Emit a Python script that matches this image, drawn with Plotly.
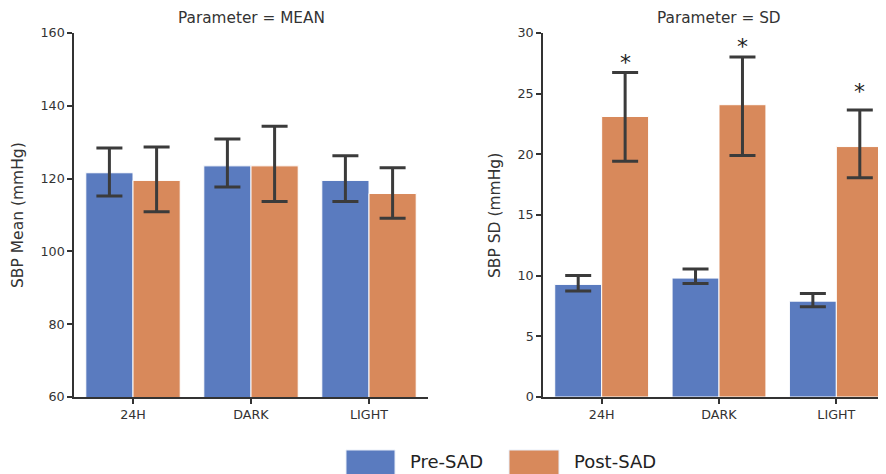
import plotly.graph_objects as go

categories = ["24H", "DARK", "LIGHT"]
groups = ["Pre-SAD", "Post-SAD"]

mean_pre = [121.6, 123.5, 119.5]
mean_pre_hi = [128.4, 130.9, 126.3]
mean_pre_lo = [115.2, 117.7, 113.7]
mean_post = [119.5, 123.5, 115.9]
mean_post_hi = [128.7, 134.4, 123.0]
mean_post_lo = [110.9, 113.7, 109.1]

sd_pre = [9.28, 9.80, 7.90]
sd_pre_hi = [10.02, 10.54, 8.54]
sd_pre_lo = [8.73, 9.36, 7.43]
sd_post = [23.12, 24.09, 20.64]
sd_post_hi = [26.75, 28.02, 23.65]
sd_post_lo = [19.44, 19.90, 18.08]

sig_marks = ["*", "*", "*"]
sig_y = [27.9, 29.2, 25.5]

mean_ticks = [60, 80, 100, 120, 140, 160]
sd_ticks = [0, 5, 10, 15, 20, 25, 30]

BLUE = "#5A7BBF"
ORANGE = "#D8895B"
ERR = "#3B3B3B"
AX = "#333333"
W, H = 887, 474
OFF = 8  # page body margin in the browser


def px(x):
    return (x - OFF) / W


def py(y):
    return 1 - (y - OFF) / H


fig = go.Figure()


def add_bar(name, vals, hi, lo, color, xa, ya, og):
    fig.add_trace(go.Bar(
        x=categories, y=vals, name=name, offsetgroup=og,
        marker=dict(color=color, line=dict(color="white", width=1)),
        error_y=dict(type="data", symmetric=False,
                     array=[h - v for h, v in zip(hi, vals)],
                     arrayminus=[v - l for v, l in zip(vals, lo)],
                     color=ERR, thickness=3, width=13),
        xaxis=xa, yaxis=ya, showlegend=False,
    ))


add_bar(groups[0], mean_pre, mean_pre_hi, mean_pre_lo, BLUE, "x", "y", "a")
add_bar(groups[1], mean_post, mean_post_hi, mean_post_lo, ORANGE, "x", "y", "b")
add_bar(groups[0], sd_pre, sd_pre_hi, sd_pre_lo, BLUE, "x2", "y2", "a")
add_bar(groups[1], sd_post, sd_post_hi, sd_post_lo, ORANGE, "x2", "y2", "b")

y0 = py(397)
y1 = py(33)
axis_common = dict(showline=True, linecolor=AX, linewidth=1.5, ticks="outside",
                   ticklen=5, tickwidth=1.5, tickcolor=AX, showgrid=False, automargin=False,
                   zeroline=False, tickfont=dict(family="DejaVu Sans", size=12.7, color="#333333"))

fig.update_layout(
    width=W, height=H, margin=dict(l=0, r=0, t=0, b=0, autoexpand=False),
    plot_bgcolor="white", paper_bgcolor="white", showlegend=False,
    barmode="group", bargap=0.2, bargroupgap=0,
    font=dict(family="DejaVu Sans", color="#333333"),
    xaxis=dict(domain=[px(74), px(428)], type="category", range=[-0.5, 2.5], anchor="y", **axis_common),
    yaxis=dict(domain=[y0, y1], range=[60, 160], tickvals=mean_ticks, anchor="x", **axis_common),
    xaxis2=dict(domain=[px(543), 1.0], type="category", range=[-0.5, 2.5], anchor="y2", **axis_common),
    yaxis2=dict(domain=[y0, y1], range=[0, 30], tickvals=sd_ticks, anchor="x2", **axis_common),
)

ann = []
tfont = dict(size=15.3, color="#333333")
lfont = dict(size=15.5, color="#333333")
ann.append(dict(text="Parameter = MEAN", x=px(251), y=py(18), xref="paper", yref="paper",
                xanchor="center", yanchor="middle", showarrow=False, font=tfont))
ann.append(dict(text="Parameter = SD", x=px(719), y=py(18), xref="paper", yref="paper",
                xanchor="center", yanchor="middle", showarrow=False, font=tfont))
ann.append(dict(text="SBP Mean (mmHg)", x=px(18), y=(y0 + y1) / 2, xref="paper", yref="paper",
                xanchor="center", yanchor="middle", textangle=-90, showarrow=False, font=lfont))
ann.append(dict(text="SBP SD (mmHg)", x=px(495), y=(y0 + y1) / 2, xref="paper", yref="paper",
                xanchor="center", yanchor="middle", textangle=-90, showarrow=False, font=lfont))
for i, (m, sy) in enumerate(zip(sig_marks, sig_y)):
    ann.append(dict(text=m, x=i + 0.2, y=sy, xref="x2", yref="y2", xanchor="center", yanchor="middle",
                    showarrow=False, yshift=-4, font=dict(size=22, color="#222222")))

shapes = []
leg = [(groups[0], BLUE, 346, 395, 408), (groups[1], ORANGE, 509, 559, 572)]
for name, col, xa, xb, xt in leg:
    shapes.append(dict(type="rect", xref="paper", yref="paper", x0=px(xa), x1=px(xb),
                       y0=-0.05, y1=py(450), fillcolor=col, line=dict(color="#E8EEF8", width=1)))
    ann.append(dict(text=name, x=px(xt), y=py(461), xref="paper", yref="paper", xanchor="left",
                    yanchor="middle", showarrow=False, font=dict(size=18, color="#222222")))

fig.update_layout(annotations=ann, shapes=shapes)
fig.write_html("out.html")
